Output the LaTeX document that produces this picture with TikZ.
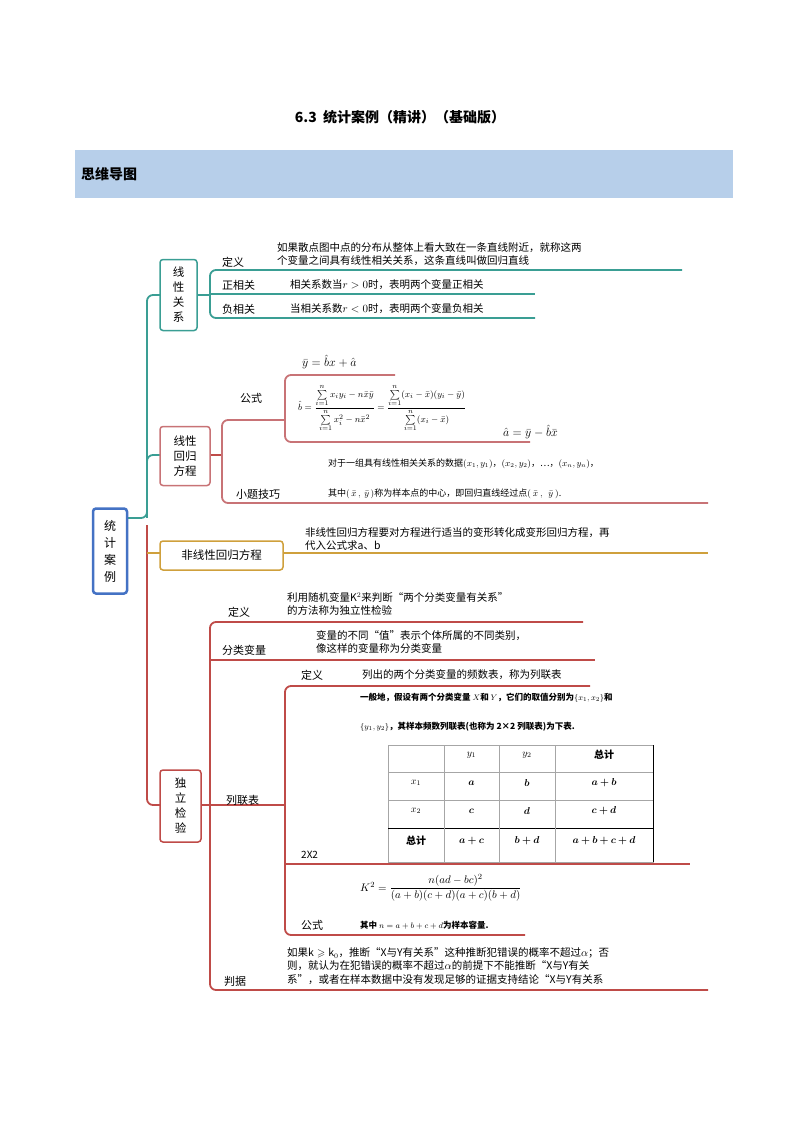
\documentclass[tikz,border=0pt]{standalone}
\usepackage{amsmath,amssymb,bm}
\usepackage{fontspec}
\setmainfont{Noto Sans CJK SC}
\usetikzlibrary{calc}
\definecolor{teal1}{HTML}{3A9E94}
\definecolor{red1}{HTML}{BF4B48}
\definecolor{pink1}{HTML}{C87376}
\definecolor{gold1}{HTML}{CFA03C}
\definecolor{band}{HTML}{B7CFEA}
\definecolor{blue1}{HTML}{4472C4}
\tikzset{
 br/.style={line width=1.8pt,rounded corners=6pt},
 lab/.style={anchor=west,font=\fontsize{11}{12}\selectfont,inner sep=0pt},
 txt/.style={anchor=west,font=\fontsize{10.5}{13.5}\selectfont,inner sep=0pt,align=left},
 sm/.style={anchor=west,font=\fontsize{8}{10}\selectfont,inner sep=0pt},
 cell/.style={font=\fontsize{10}{11}\selectfont\bfseries,inner sep=0pt},
 box/.style={draw,line width=1.5pt,rounded corners=3pt,fill=white,align=center,font=\fontsize{11.5}{15}\selectfont,inner sep=3pt}
}
\begin{document}
\begin{tikzpicture}[x=1pt,y=-1pt]
\useasboundingbox (0,0) rectangle (800,1132);
\node[font=\fontsize{14}{16}\selectfont\bfseries] (title) at (400,117) {6.3\ \ 统计案例（精讲）（基础版）};
\fill[band] (75,150) rectangle (733,198);
\node[anchor=west,font=\fontsize{14}{16}\selectfont\bfseries,inner sep=0pt] (mm) at (81,174) {思维导图};
% trunk
\draw[teal1,br] (127,518) -- (147,518) -- (147,295) -- (160,295);
\draw[teal1,br] (147,460) -- (147,455) -- (160,455);
\draw[teal1,line width=1.8pt] (147,300) -- (147,518);
\draw[red1,br] (147,525) -- (147,805) -- (160,805);
\draw[gold1,line width=1.8pt] (147,553) -- (160,553);
% root
\node[box,draw=blue1,line width=2.5pt,minimum width=34pt,minimum height=85pt,font=\fontsize{12}{17}\selectfont] (root) at (110,551) {统\\计\\案\\例};
% 线性关系
\draw[teal1,br] (682,270) -- (210,270) -- (210,318) -- (535,318);
\draw[teal1,line width=1.8pt] (210,294) -- (535,294);
\draw[teal1,line width=1.8pt] (197,295) -- (210,295);
\node[box,draw=teal1,minimum width=37pt,minimum height=71pt] (b1) at (178.5,295) {线\\性\\关\\系};
\node[lab] (d1) at (222,262) {定义};
\node[txt] (t1) at (277,254) {如果散点图中点的分布从整体上看大致在一条直线附近，就称这两\\个变量之间具有线性相关关系，这条直线叫做回归直线};
\node[lab] (d2) at (222,285) {正相关};
\node[txt] (t2) at (290,285) {相关系数当$r>0$时，表明两个变量正相关};
\node[lab] (d3) at (222,309) {负相关};
\node[txt] (t3) at (290,309) {当相关系数$r<0$时，表明两个变量负相关};
% 线性回归方程
\draw[red1,line width=1.8pt] (210,455) -- (222,455);
\draw[pink1,br] (285,420) -- (222,420) -- (222,503) -- (708,503);
\draw[pink1,br] (395,375) -- (285,375) -- (285,442) -- (530,442);
\node[box,draw=pink1,minimum width=50pt,minimum height=59pt] (b2) at (185,456) {线性\\回归\\方程};
\node[lab] (g1) at (240,398) {公式};
\node[anchor=west,inner sep=0pt,font=\fontsize{13}{15}\selectfont] (f1) at (302,362) {$\bar y=\hat b x+\hat a$};
\node[anchor=west,inner sep=0pt,font=\fontsize{9.5}{11}\selectfont] (f2) at (298,408) {$\hat b=\dfrac{\sum\limits_{i=1}^{n}x_iy_i-n\bar x\bar y}{\sum\limits_{i=1}^{n}x_i^2-n\bar x^{2}}=\dfrac{\sum\limits_{i=1}^{n}(x_i-\bar x)(y_i-\bar y)}{\sum\limits_{i=1}^{n}(x_i-\bar x)}$};
\node[anchor=west,inner sep=0pt,font=\fontsize{12}{14}\selectfont] (f3) at (503,432) {$\hat a=\bar y-\hat b\bar x$};
\node[lab] (g2) at (236,494) {小题技巧};
\node[sm,font=\fontsize{9}{10}\selectfont] (s1) at (328,464) {对于一组具有线性相关关系的数据$(x_1,y_1)$，$(x_2,y_2)$，…，$(x_n,y_n)$，};
\node[sm,font=\fontsize{9}{10}\selectfont] (s2) at (328,494) {其中$(\,\bar x\,,\ \bar y\,)$称为样本点的中心，即回归直线经过点$(\ \bar x\ ,\ \ \bar y\ )$.};
% 非线性
\draw[gold1,line width=1.8pt] (283,553) -- (708,553);
\node[box,draw=gold1,minimum width=123pt,minimum height=29pt] (b3) at (221.5,555.5) {非线性回归方程};
\node[txt] (n1) at (305,539) {非线性回归方程要对方程进行适当的变形转化成变形回归方程，再\\代入公式求a、b};
% 独立检验
\draw[red1,line width=1.8pt] (201,805) -- (210,805);
\draw[red1,br] (583,622) -- (210,622) -- (210,990) -- (708,990);
\draw[red1,line width=1.8pt] (210,660) -- (595,660);
\draw[red1,line width=1.8pt] (210,805) -- (285,805);
\draw[red1,br] (590,686) -- (285,686) -- (285,935) -- (525,935);
\draw[red1,line width=1.8pt] (285,864) -- (690,864);
\node[box,draw=red1,minimum width=41pt,minimum height=72pt] (b4) at (180.5,806) {独\\立\\检\\验};
\node[lab] (h1) at (228,612) {定义};
\node[txt] (ht1) at (287,604) {利用随机变量$\mathrm{K}^2$来判断“两个分类变量有关系”\\的方法称为独立性检验};
\node[lab] (h2) at (222,650) {分类变量};
\node[txt] (ht2) at (316,642) {变量的不同“值”表示个体所属的不同类别，\\像这样的变量称为分类变量};
\node[lab] (h3) at (226,800) {列联表};
\node[lab] (k1) at (301,675) {定义};
\node[txt] (kt1) at (362,675) {列出的两个分类变量的频数表，称为列联表};
\node[sm,font=\fontsize{8.5}{10}\selectfont\bfseries] (kt2) at (360,698) {一般地，假设有两个分类变量 $X$和 $Y$，它们的取值分别为$\{x_1,x_2\}$和};
\node[sm,font=\fontsize{8.5}{10}\selectfont\bfseries] (kt3) at (360,727) {$\{y_1,y_2\}$，其样本频数列联表(也称为 2×2 列联表)为下表.};
\node[lab,font=\fontsize{10}{12}\selectfont] (k2) at (301,855) {2X2};
\node[lab] (k3) at (301,925) {公式};
\node[anchor=west,inner sep=0pt,font=\fontsize{11}{13}\selectfont] (kf) at (360,888) {$K^2=\dfrac{n(ad-bc)^2}{(a+b)(c+d)(a+c)(b+d)}$};
\node[sm,font=\fontsize{8.5}{10}\selectfont\bfseries] (kt4) at (360,925) {其中 $n=a+b+c+d$为样本容量.};
\node[lab] (h4) at (224,981) {判据};
\node[txt] (jt) at (287,966) {如果$\mathrm{k}\geqslant \mathrm{k}_0$，推断“X与Y有关系”这种推断犯错误的概率不超过$\alpha$；否\\则，就认为在犯错误的概率不超过$\alpha$的前提下不能推断“X与Y有关\\系”，或者在样本数据中没有发现足够的证据支持结论“X与Y有关系};
% table
\draw[gray!70,line width=0.5pt] (388,745) rectangle (653,862);
\foreach \yy in {772,800} \draw[gray!70,line width=0.5pt] (388,\yy) -- (653,\yy);
\draw[black,line width=1pt] (388,828) -- (653,828);
\foreach \xx in {444,499,555} \draw[gray!70,line width=0.5pt] (\xx,745) -- (\xx,862);
\draw[black,line width=1pt] (653,745) -- (653,862);
\node[cell] (c01) at (471.5,755) {$y_1$};
\node[cell] (c02) at (527,755) {$y_2$};
\node[cell] (c03) at (604,755) {总计};
\node[cell] (c10) at (416,783) {$x_1$};
\node[cell] (c11) at (471.5,783) {$\bm a$};
\node[cell] (c12) at (527,783) {$\bm b$};
\node[cell] (c13) at (604,783) {$\bm{a+b}$};
\node[cell] (c20) at (416,811) {$x_2$};
\node[cell] (c21) at (471.5,811) {$\bm c$};
\node[cell] (c22) at (527,811) {$\bm d$};
\node[cell] (c23) at (604,811) {$\bm{c+d}$};
\node[cell] (c30) at (416,841) {总计};
\node[cell] (c31) at (471.5,841) {$\bm{a+c}$};
\node[cell] (c32) at (527,841) {$\bm{b+d}$};
\node[cell] (c33) at (604,841) {$\bm{a+b+c+d}$};
\end{tikzpicture}
\end{document}
